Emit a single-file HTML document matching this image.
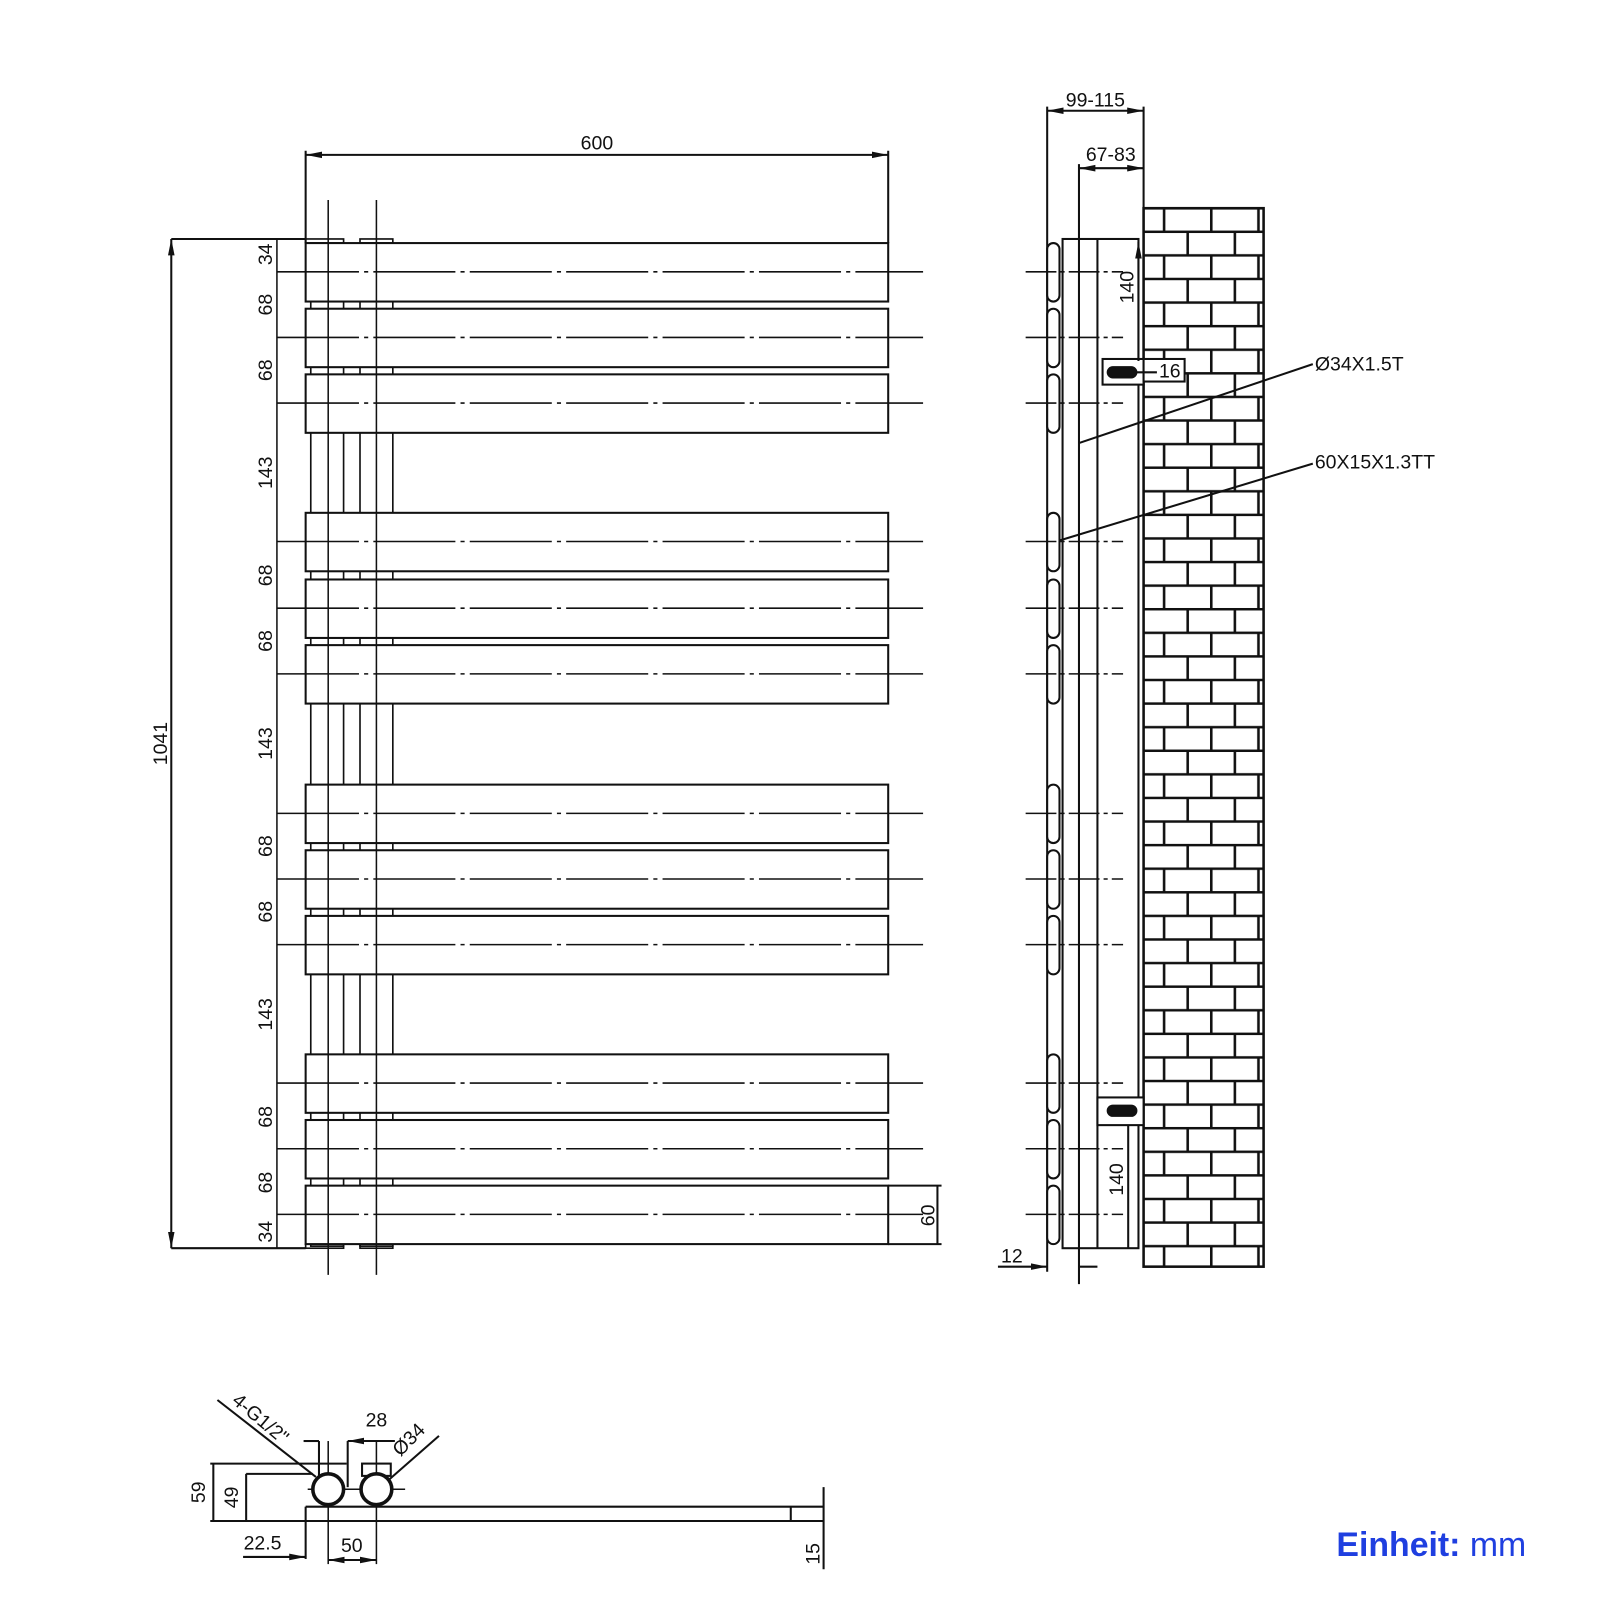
<!DOCTYPE html>
<html><head><meta charset="utf-8"><style>
html,body{margin:0;padding:0;background:#fff;}
svg{display:block;}
text{font-family:"Liberation Sans",sans-serif;fill:#111;}
</style></head><body>
<svg width="1600" height="1600" viewBox="0 0 1560 1560" xmlns="http://www.w3.org/2000/svg">
<defs>
<pattern id="brick" x="1115" y="203" width="92" height="46" patternUnits="userSpaceOnUse">
<rect width="92" height="46" fill="#fff"/>
<path d="M0 0H92M0 23H92M0 46H92M20 0V23M66 0V23M43 23V46M89 23V46" stroke="#111" stroke-width="2.5" fill="none"/>
</pattern>
<marker id="a" viewBox="0 0 10 10" refX="10" refY="5" markerWidth="8" markerHeight="8" orient="auto-start-reverse"><path d="M0 3L10 5L0 7" fill="#111"/></marker>
</defs>
<g stroke="#111" stroke-width="2" fill="none">
<line x1="298" y1="151" x2="866" y2="151" marker-start="url(#a)" marker-end="url(#a)"/>
<line x1="298" y1="147" x2="298" y2="237"/><line x1="866" y1="147" x2="866" y2="237"/>
<g stroke-width="1.6">
<rect x="303" y="237" width="32" height="978"/><rect x="351" y="237" width="32" height="978"/>
<rect x="298" y="233" width="37" height="4"/><rect x="351" y="233" width="32" height="4"/>
<rect x="298" y="1213" width="37" height="4"/><rect x="351" y="1213" width="32" height="4"/>
</g>
<g fill="#fff">
<rect x="298" y="237" width="568" height="57"/><rect x="298" y="301" width="568" height="57"/><rect x="298" y="365" width="568" height="57"/>
<rect x="298" y="500" width="568" height="57"/><rect x="298" y="565" width="568" height="57"/><rect x="298" y="629" width="568" height="57"/>
<rect x="298" y="765" width="568" height="57"/><rect x="298" y="829" width="568" height="57"/><rect x="298" y="893" width="568" height="57"/>
<rect x="298" y="1028" width="568" height="57"/><rect x="298" y="1092" width="568" height="57"/><rect x="298" y="1156" width="568" height="57"/>
</g>
<g stroke-width="1.5"><line x1="320" y1="195" x2="320" y2="1243"/><line x1="367" y1="195" x2="367" y2="1243"/></g>
<g stroke-width="1.5" stroke-dasharray="80 5 4 5">
<line x1="270" y1="265" x2="900" y2="265"/><line x1="270" y1="329" x2="900" y2="329"/><line x1="270" y1="393" x2="900" y2="393"/>
<line x1="270" y1="528" x2="900" y2="528"/><line x1="270" y1="593" x2="900" y2="593"/><line x1="270" y1="657" x2="900" y2="657"/>
<line x1="270" y1="793" x2="900" y2="793"/><line x1="270" y1="857" x2="900" y2="857"/><line x1="270" y1="921" x2="900" y2="921"/>
<line x1="270" y1="1056" x2="900" y2="1056"/><line x1="270" y1="1120" x2="900" y2="1120"/><line x1="270" y1="1184" x2="900" y2="1184"/>
</g>
<line x1="167" y1="233" x2="298" y2="233"/><line x1="167" y1="1217" x2="298" y2="1217"/>
<line x1="167" y1="233" x2="167" y2="1217" marker-start="url(#a)" marker-end="url(#a)"/>
<line x1="270" y1="233" x2="270" y2="1217" stroke-width="1.5"/>
<line x1="866" y1="1156" x2="918" y2="1156"/><line x1="866" y1="1213" x2="918" y2="1213"/>
<line x1="914" y1="1156" x2="914" y2="1213"/>
<line x1="1021" y1="108" x2="1115" y2="108" marker-start="url(#a)" marker-end="url(#a)"/>
<line x1="1021" y1="104" x2="1021" y2="1240"/><line x1="1115" y1="104" x2="1115" y2="205"/>
<line x1="1052" y1="164" x2="1115" y2="164" marker-start="url(#a)" marker-end="url(#a)"/>
<line x1="1052" y1="160" x2="1052" y2="1252"/>
<rect x="1036" y="233" width="74" height="984"/><line x1="1070" y1="233" x2="1070" y2="1217"/>
<rect x="1115" y="203" width="117" height="1032" fill="url(#brick)" stroke-width="2.5"/>
<g fill="#fff" stroke-width="2">
<rect x="1021" y="237" width="12" height="57" rx="6"/><rect x="1021" y="301" width="12" height="57" rx="6"/><rect x="1021" y="365" width="12" height="57" rx="6"/>
<rect x="1021" y="500" width="12" height="57" rx="6"/><rect x="1021" y="565" width="12" height="57" rx="6"/><rect x="1021" y="629" width="12" height="57" rx="6"/>
<rect x="1021" y="765" width="12" height="57" rx="6"/><rect x="1021" y="829" width="12" height="57" rx="6"/><rect x="1021" y="893" width="12" height="57" rx="6"/>
<rect x="1021" y="1028" width="12" height="57" rx="6"/><rect x="1021" y="1092" width="12" height="57" rx="6"/><rect x="1021" y="1156" width="12" height="57" rx="6"/>
</g>
<g stroke-width="1.5" stroke-dasharray="30 4 4 4">
<line x1="1000" y1="265" x2="1095" y2="265"/><line x1="1000" y1="329" x2="1095" y2="329"/><line x1="1000" y1="393" x2="1095" y2="393"/>
<line x1="1000" y1="528" x2="1095" y2="528"/><line x1="1000" y1="593" x2="1095" y2="593"/><line x1="1000" y1="657" x2="1095" y2="657"/>
<line x1="1000" y1="793" x2="1095" y2="793"/><line x1="1000" y1="857" x2="1095" y2="857"/><line x1="1000" y1="921" x2="1095" y2="921"/>
<line x1="1000" y1="1056" x2="1095" y2="1056"/><line x1="1000" y1="1120" x2="1095" y2="1120"/><line x1="1000" y1="1184" x2="1095" y2="1184"/>
</g>
<rect x="1075" y="350" width="40" height="25" fill="#fff"/>
<rect x="1080" y="358" width="28" height="10" rx="5" fill="#111"/>
<rect x="1115" y="350" width="40" height="22" fill="#fff"/>
<line x1="1108" y1="363" x2="1128" y2="363"/><line x1="1110" y1="236" x2="1110" y2="352" marker-start="url(#a)"/>
<rect x="1070" y="1070" width="45" height="27" fill="#fff"/>
<rect x="1080" y="1078" width="28" height="10" rx="5" fill="#111"/>
<line x1="1100" y1="1097" x2="1100" y2="1217"/>
<line x1="973" y1="1235" x2="1021" y2="1235" marker-end="url(#a)"/><line x1="1052" y1="1235" x2="1070" y2="1235"/>
<line x1="1052" y1="432" x2="1280" y2="355"/><line x1="1033" y1="527" x2="1280" y2="452"/>
<line x1="298" y1="1469" x2="803" y2="1469"/><line x1="205" y1="1483" x2="803" y2="1483"/>
<line x1="298" y1="1469" x2="298" y2="1520"/><line x1="771" y1="1469" x2="771" y2="1483"/>
<line x1="803" y1="1450" x2="803" y2="1530"/>
<line x1="205" y1="1427" x2="338" y2="1427"/><line x1="208" y1="1427" x2="208" y2="1483"/>
<line x1="240" y1="1437" x2="305" y2="1437"/><line x1="240" y1="1437" x2="240" y2="1483"/>
<line x1="311" y1="1450" x2="311" y2="1405"/><line x1="339" y1="1450" x2="339" y2="1405"/>
<line x1="296" y1="1405" x2="311" y2="1405"/><line x1="339" y1="1405" x2="385" y2="1405" marker-start="url(#a)"/>
<rect x="353" y="1427" width="28" height="12"/>
<line x1="300" y1="1452" x2="395" y2="1452" stroke-width="1.5"/>
<line x1="320" y1="1405" x2="320" y2="1525" stroke-width="1.5"/><line x1="367" y1="1405" x2="367" y2="1525" stroke-width="1.5"/>
<line x1="320" y1="1521" x2="367" y2="1521" marker-start="url(#a)" marker-end="url(#a)"/>
<line x1="237" y1="1518" x2="298" y2="1518" marker-end="url(#a)"/>
<circle cx="320" cy="1452" r="15" stroke-width="3.5" fill="#fff"/><circle cx="367" cy="1452" r="15" stroke-width="3.5" fill="#fff"/>
<line x1="212" y1="1365" x2="308" y2="1440"/><line x1="428" y1="1400" x2="380" y2="1442"/>
</g>
<g font-size="19">
<text x="582" y="146" text-anchor="middle">600</text>
<text x="1068" y="104" text-anchor="middle">99-115</text>
<text x="1083" y="157" text-anchor="middle">67-83</text>
<text x="1130" y="368">16</text>
<text x="976" y="1231">12</text>
<text x="1282" y="361">Ø34X1.5T</text>
<text x="1282" y="457">60X15X1.3TT</text>
<text x="367" y="1391" text-anchor="middle">28</text>
<text x="256" y="1511" text-anchor="middle">22.5</text>
<text x="343" y="1513" text-anchor="middle">50</text>
<g text-anchor="middle">
<text transform="translate(163,725) rotate(-90)">1041</text>
<text transform="translate(265,248) rotate(-90)">34</text>
<text transform="translate(265,297) rotate(-90)">68</text>
<text transform="translate(265,361) rotate(-90)">68</text>
<text transform="translate(265,461) rotate(-90)">143</text>
<text transform="translate(265,561) rotate(-90)">68</text>
<text transform="translate(265,625) rotate(-90)">68</text>
<text transform="translate(265,725) rotate(-90)">143</text>
<text transform="translate(265,825) rotate(-90)">68</text>
<text transform="translate(265,889) rotate(-90)">68</text>
<text transform="translate(265,989) rotate(-90)">143</text>
<text transform="translate(265,1089) rotate(-90)">68</text>
<text transform="translate(265,1153) rotate(-90)">68</text>
<text transform="translate(265,1201) rotate(-90)">34</text>
<text transform="translate(911,1185) rotate(-90)">60</text>
<text transform="translate(1105,280) rotate(-90)">140</text>
<text transform="translate(1095,1150) rotate(-90)">140</text>
<text transform="translate(200,1455) rotate(-90)">59</text>
<text transform="translate(232,1460) rotate(-90)">49</text>
<text transform="translate(799,1515) rotate(-90)">15</text>
<text transform="translate(403,1408) rotate(-45)">Ø34</text>
<text transform="translate(250,1388) rotate(40)">4-G1/2"</text>
</g>
</g>
<text x="1303" y="1517" font-size="33" style="fill:#1f3fe0" font-weight="bold">Einheit:<tspan font-weight="normal"> mm</tspan></text>
</svg>
</body></html>
